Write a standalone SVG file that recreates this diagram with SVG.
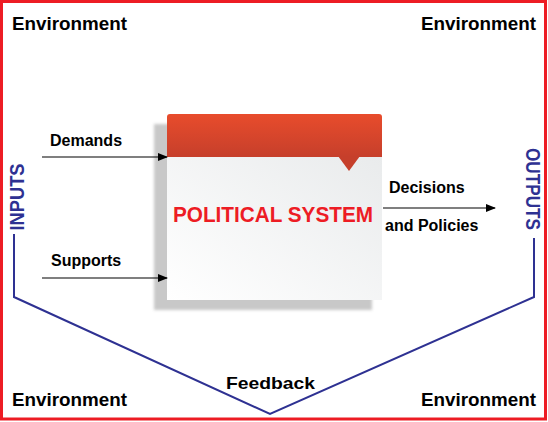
<svg xmlns="http://www.w3.org/2000/svg" width="548" height="422" viewBox="0 0 548 422">
<style>
.env{font-family:"Liberation Sans",Arial,sans-serif;font-weight:bold;font-size:18px;fill:#000}
.lbl{font-family:"Liberation Sans",Arial,sans-serif;font-weight:bold;font-size:16px;fill:#000}
.io{font-family:"Liberation Sans",Arial,sans-serif;font-weight:bold;font-size:20px;fill:#2E3192}
.arrow{stroke:#000;stroke-width:1.2;fill:none;marker-end:url(#ah)}
</style>
<defs>
<marker id="ah" markerWidth="10" markerHeight="8" refX="9" refY="4" orient="auto" markerUnits="userSpaceOnUse">
<path d="M0,0 L10,4 L0,8 Z" fill="#000"/>
</marker>
<linearGradient id="hdr" x1="0" y1="0" x2="0" y2="1">
<stop offset="0" stop-color="#E84C2C"/>
<stop offset="1" stop-color="#C63F2B"/>
</linearGradient>
<linearGradient id="body" x1="0" y1="1" x2="1" y2="0">
<stop offset="0" stop-color="#FFFFFF"/>
<stop offset="1" stop-color="#E9EBEC"/>
</linearGradient>
<filter id="blur" x="-10%" y="-10%" width="120%" height="120%">
<feGaussianBlur stdDeviation="1.5"/>
</filter>
</defs>
<rect x="1.5" y="1.5" width="544" height="417.5" fill="#fff" stroke="#ED1C24" stroke-width="3"/>
<g id="environment">
<text class="env" x="12" y="30" textLength="115" lengthAdjust="spacingAndGlyphs">Environment</text>
<text class="env" x="421" y="30" textLength="115" lengthAdjust="spacingAndGlyphs">Environment</text>
<text class="env" x="12" y="406" textLength="115" lengthAdjust="spacingAndGlyphs">Environment</text>
<text class="env" x="421" y="406" textLength="115" lengthAdjust="spacingAndGlyphs">Environment</text>
</g>
<g id="political-system">
<rect x="154" y="124" width="218" height="186" fill="#C8C8C8" filter="url(#blur)"/>
<rect x="167" y="157" width="215" height="143" fill="url(#body)"/>
<path d="M167,157 V117 Q167,114 170,114 H379 Q382,114 382,117 V157 Z" fill="url(#hdr)"/>
<path d="M338,156 L360,156 L349,171 Z" fill="#C63F2B"/>
<text x="273" y="222" text-anchor="middle" font-family="'Liberation Sans',Arial,sans-serif" font-weight="bold" font-size="22" fill="#ED1C24" textLength="200" lengthAdjust="spacingAndGlyphs">POLITICAL SYSTEM</text>
</g>
<g id="inputs">
<text class="io" transform="translate(24,197) rotate(-90)" text-anchor="middle" textLength="67" lengthAdjust="spacingAndGlyphs">INPUTS</text>
</g>
<g id="outputs">
<text class="io" transform="translate(526,189) rotate(90)" text-anchor="middle" textLength="82" lengthAdjust="spacingAndGlyphs">OUTPUTS</text>
</g>
<g id="connectors">
<line class="arrow" x1="42" y1="157" x2="167" y2="157"/>
<line class="arrow" x1="42" y1="278" x2="167" y2="278"/>
<line class="arrow" x1="383" y1="208" x2="495" y2="208"/>
<polyline points="14,234 14,297 270,414 534,297 534,238" fill="none" stroke="#2E3192" stroke-width="2"/>
</g>
<g id="labels">
<text class="lbl" x="50" y="146">Demands</text>
<text class="lbl" x="51" y="266">Supports</text>
<text class="lbl" x="389" y="193">Decisions</text>
<text class="lbl" x="385" y="231">and Policies</text>
<text class="env" x="226" y="389" style="font-size:17px" textLength="89" lengthAdjust="spacingAndGlyphs">Feedback</text>
</g>
</svg>
